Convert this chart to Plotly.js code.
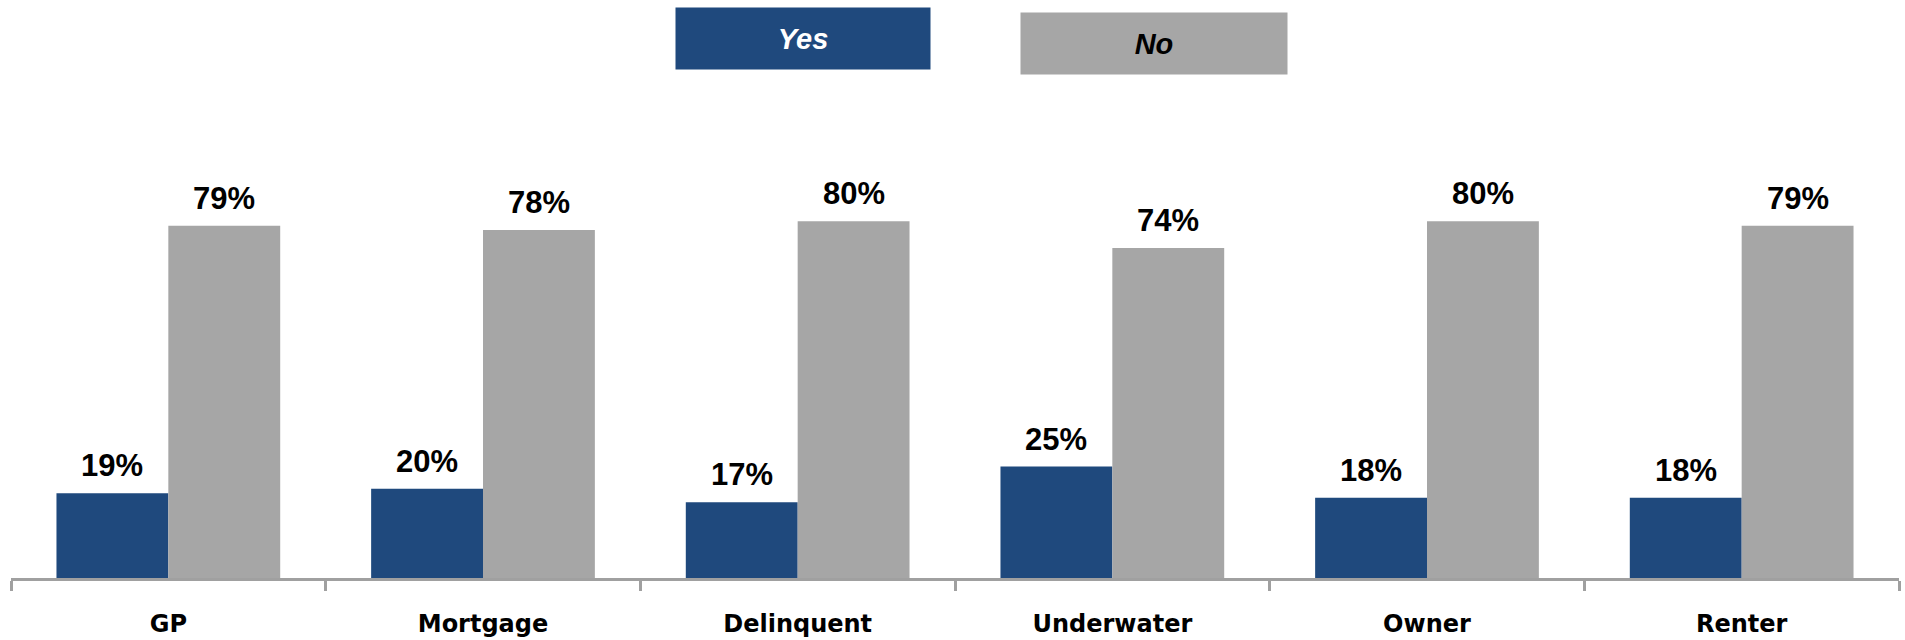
<!DOCTYPE html>
<html>
<head>
<meta charset="utf-8">
<script src="https://cdn.plot.ly/plotly-3.0.1.min.js"></script>
<style>
  html, body { margin: 0; padding: 0; background: #ffffff; }
  #chart { width: 1905px; height: 640px; }
</style>
</head>
<body>
<div id="chart"></div>
<script>
// ---- data ----
const categories = ["GP", "Mortgage", "Delinquent", "Underwater", "Owner", "Renter"];
const yesValues = [19, 20, 17, 25, 18, 18];
const noValues  = [79, 78, 80, 74, 80, 79];
const seriesNames = ["Yes", "No"];

// ---- styles ----
const yesColor = "#1F497D";
const noColor = "#A6A6A6";
const axisColor = "#A0A0A0";
const labelFont = { family: "Liberation Sans, Arial, sans-serif", size: 31, color: "#000000", weight: 700 };

const traces = [
  { type: "bar", name: seriesNames[0], x: categories, y: yesValues,
    marker: { color: yesColor, line: { width: 0 } }, hoverinfo: "skip" },
  { type: "bar", name: seriesNames[1], x: categories, y: noValues,
    marker: { color: noColor, line: { width: 0 } }, hoverinfo: "skip" }
];

const annotations = [];
// value labels, placed through the axes' scales
categories.forEach((c, i) => {
  annotations.push({ x: c, y: yesValues[i], xref: "x", yref: "y", xshift: -56, yshift: 8,
    yanchor: "bottom", xanchor: "center", showarrow: false,
    text: yesValues[i] + "%", font: labelFont });
  annotations.push({ x: c, y: noValues[i], xref: "x", yref: "y", xshift: 56, yshift: 8,
    yanchor: "bottom", xanchor: "center", showarrow: false,
    text: noValues[i] + "%", font: labelFont });
});

// legend boxes (custom, top)
annotations.push({ xref: "paper", yref: "paper", x: 0.4197, y: 1.2097, xanchor: "center", yanchor: "middle",
  showarrow: false, text: "<i>" + seriesNames[0] + "</i>", bgcolor: yesColor, width: 254, height: 61, borderpad: 0,
  font: { family: "Liberation Sans, Arial, sans-serif", size: 29, color: "#ffffff", weight: 700 } });
annotations.push({ xref: "paper", yref: "paper", x: 0.6053, y: 1.1984, xanchor: "center", yanchor: "middle",
  showarrow: false, text: "<i>" + seriesNames[1] + "</i>", bgcolor: noColor, width: 266, height: 61, borderpad: 0,
  font: { family: "Liberation Sans, Arial, sans-serif", size: 29, color: "#000000", weight: 700 } });

const layout = {
  width: 1905, height: 640,
  margin: { l: 11, r: 6, t: 132, b: 62 },
  paper_bgcolor: "#ffffff", plot_bgcolor: "#ffffff",
  showlegend: false,
  barmode: "group", bargap: 0.289, bargroupgap: 0,
  xaxis: {
    type: "category",
    showline: true, linecolor: axisColor, linewidth: 3,
    ticks: "outside", tickson: "boundaries", ticklen: 10, tickwidth: 3, tickcolor: axisColor,
    ticklabelstandoff: 22,
    showgrid: false, zeroline: false,
    tickfont: { family: "DejaVu Sans, sans-serif", size: 24, color: "#000000", weight: 700 },
    fixedrange: true
  },
  yaxis: { range: [0, 100], visible: false, showgrid: false, zeroline: false, fixedrange: true },
  annotations: annotations
};

Plotly.newPlot("chart", traces, layout, { staticPlot: true, displayModeBar: false });
</script>
</body>
</html>
